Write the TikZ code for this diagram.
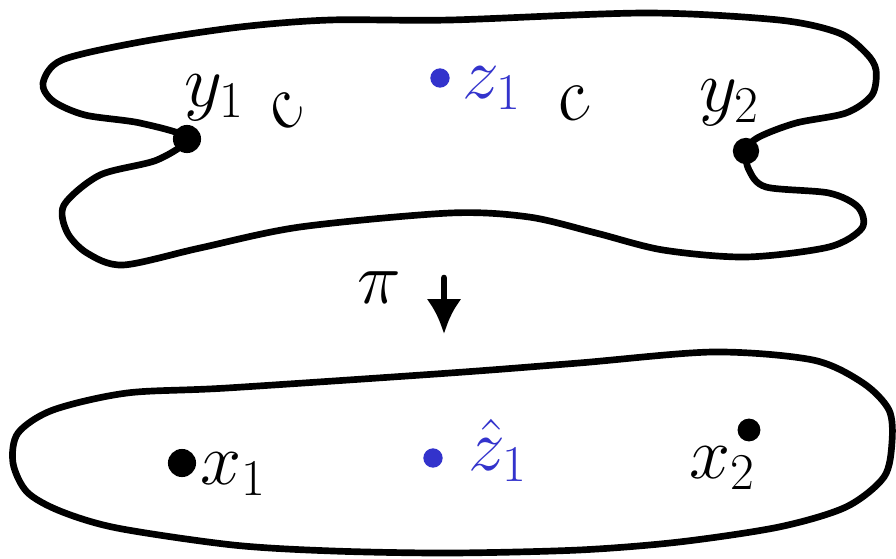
\documentclass[tikz,border=0pt]{standalone}
\usepackage{fix-cm}
\usepackage[dvipsnames]{xcolor}
\usepackage{amsmath, amssymb}
\usepackage{tikz}
\usetikzlibrary{arrows.meta}

\definecolor{tinta}{RGB}{51,51,204}

\begin{document}
\begin{tikzpicture}[x=0.02cm, y=-0.02cm,
        trazo/.style={line width=3.8pt, line join=round, line cap=round},
        letra/.style={inner sep=0pt, font=\fontsize{42}{46}\selectfont},
        punto/.style={circle, fill, inner sep=0pt, minimum size=#1},
        punto/.default=14pt]
        \useasboundingbox (0,0) rectangle (896,558);

        % Superficie de arriba
        \draw[trazo] plot[smooth cycle, tension=0.5] coordinates {
            (450,20) (330,20) (240,27) (140,42) (62,60) (43,83) (53,101)
            (85,115) (140,123) (187,138) (157,160) (100,175) (64,205)
            (67,232) (87,253) (123,265) (200,248) (300,227) (450,213)
            (529,217) (596,233) (663,250) (746,257) (829,247) (862,228)
            (858,207) (829,193) (766,187) (749,170) (746,150) (759,137)
            (796,123) (846,113) (872,95) (876,70) (866,53) (839,33)
            (779,20) (646,13)};

        % Superficie de abajo
        \draw[trazo] plot[smooth cycle, tension=0.5] coordinates {
            (450,373) (579,363) (713,352) (813,360) (863,383) (889,410)
            (892,442) (884,477) (846,507) (779,527) (679,542) (579,550)
            (450,553) (333,551) (233,545) (117,528) (60,511) (27,492)
            (13,463) (18,433) (53,410) (127,393) (227,388)};

        % Puntos
        \node[punto=16pt] (y1) at (187,139) {};
        \node[punto=15pt] (y2) at (746,151) {};
        \node[punto=16pt] (x1) at (182,463) {};
        \node[punto=13pt] (x2) at (749,430) {};
        \node[punto=11pt, tinta] (z1) at (440,78) {};
        \node[punto=11pt, tinta] (zh1) at (433,458) {};

        % Etiquetas
        \node[letra] (y1lab) at (214,98) {$y_1$};
        \node[letra] (y2lab) at (729,103) {$y_2$};
        \node[letra, tinta] (z1lab) at (492,88) {$z_1$};
        \node[letra] (x1lab) at (233,474) {$x_1$};
        \node[letra] (x2lab) at (722,468) {$x_2$};
        \node[letra, tinta] (zh1lab) at (498,450) {$\hat{z}_1$};
        \node[letra, rotate=45] (c1) at (285,112) {$c$};
        \node[letra, rotate=20] (c2) at (573,104) {$c$};

        % Proyeccion
        \coordinate (pitop) at (444,278);
        \coordinate (pibot) at (444,334);
        \draw[trazo, -{Latex[length=7mm, width=7mm]}] (pitop) -- (pibot);
        \node[letra] (pi) at (379,288) {$\pi$};
\end{tikzpicture}
\end{document}
